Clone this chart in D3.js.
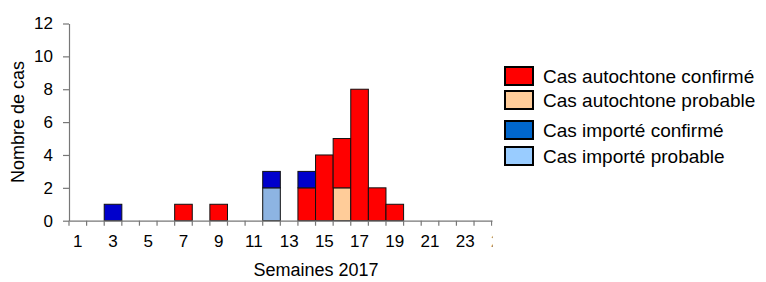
<!DOCTYPE html>
<html><head><meta charset="utf-8">
<script src="https://cdn.jsdelivr.net/npm/d3@7"></script>
<style>
html,body{margin:0;padding:0;background:#fff;}
svg{display:block;font-family:Arial,"Liberation Sans",sans-serif;}
</style></head>
<body>
<svg id="chart" width="766" height="282"></svg>
<script>
const weeks = [1,2,3,4,5,6,7,8,9,10,11,12,13,14,15,16,17,18,19,20,21,22,23,24,25];
const weekTickLabels = [1,3,5,7,9,11,13,15,17,19,21,23,25];
const autochtoneConfirme = [0,0,0,0,0,0,1,0,1,0,0,0,0,2,4,3,8,2,1,0,0,0,0,0,0];
const autochtoneProbable = [0,0,0,0,0,0,0,0,0,0,0,0,0,0,0,2,0,0,0,0,0,0,0,0,0];
const importeConfirme    = [0,0,1,0,0,0,0,0,0,0,0,1,0,1,0,0,0,0,0,0,0,0,0,0,0];
const importeProbable    = [0,0,0,0,0,0,0,0,0,0,0,2,0,0,0,0,0,0,0,0,0,0,0,0,0];
const yTicks = [0,2,4,6,8,10,12];
const seriesNames = ["Cas autochtone confirmé","Cas autochtone probable","Cas importé confirmé","Cas importé probable"];
const barColors = ["#FF0000","#FFCC99","#0000CC","#8DB4E2"];
const legendColors = ["#FF0000","#FFCC99","#0066CC","#99CCFF"];

const svg = d3.select("#chart");
const plotLeft = 69, plotBottom = 220.7, plotTop = 23.5, band = 17.61;

const x = d3.scaleBand().domain(weeks).range([plotLeft, plotLeft + band*weeks.length]).paddingInner(0).paddingOuter(0);
const y = d3.scaleLinear().domain([0,12]).range([plotBottom, plotTop]);

// stack table (bottom → top)
const keys = ["ap","ac","ip","ic"];
const keyIdx = {ac:0, ap:1, ic:2, ip:3};
const table = weeks.map((w,i)=>({week:w, ac:autochtoneConfirme[i], ap:autochtoneProbable[i], ic:importeConfirme[i], ip:importeProbable[i]}));
const stacked = d3.stack().keys(keys)(table);

const clipR = 492.5;
svg.append("defs").append("clipPath").attr("id","clipx")
  .append("rect").attr("x",0).attr("y",0).attr("width",clipR).attr("height",282);

// bars
svg.append("g").selectAll("g").data(stacked).join("g")
  .attr("fill", d => barColors[keyIdx[d.key]])
  .selectAll("rect").data(d => d.filter(s => s[1] - s[0] > 0)).join("rect")
  .attr("x", d => x(d.data.week))
  .attr("width", x.bandwidth())
  .attr("y", d => y(d[1]))
  .attr("height", d => y(d[0]) - y(d[1]))
  .attr("stroke","#111").attr("stroke-width",1);

// y axis
const yAxis = svg.append("g").attr("transform",`translate(${plotLeft},0)`)
  .call(d3.axisLeft(y).tickValues(yTicks).tickSize(6).tickSizeOuter(0).tickPadding(10));
yAxis.selectAll("path,line").attr("stroke","#777").attr("stroke-width",1.2);
yAxis.selectAll("text").attr("font-size",17).attr("fill","#000").attr("font-family","Arial, 'Liberation Sans', sans-serif");

// x axis
const xg = svg.append("g").attr("clip-path","url(#clipx)");
const xAxis = xg.append("g").attr("transform",`translate(0,${plotBottom})`)
  .call(d3.axisBottom(x).tickValues(weekTickLabels).tickSize(0).tickPadding(14).tickSizeOuter(0));
xAxis.select(".domain").attr("stroke","#777").attr("stroke-width",1.2);
xAxis.selectAll("text").attr("font-size",17).attr("fill","#000").attr("font-family","Arial, 'Liberation Sans', sans-serif");
// tick marks at band boundaries
xg.append("g").selectAll("line").data(weeks).join("line")
  .attr("x1", d => x(d)).attr("x2", d => x(d))
  .attr("y1", plotBottom).attr("y2", plotBottom + 5)
  .attr("stroke","#777").attr("stroke-width",1.2);

// axis titles
svg.append("text").attr("x", 316).attr("y", 276).attr("text-anchor","middle")
  .attr("font-size",18).text("Semaines 2017");
svg.append("text").attr("transform","translate(24,122) rotate(-90)").attr("text-anchor","middle")
  .attr("font-size",18).text("Nombre de cas");

// legend
const legendY = [67, 91, 121, 147];
const lg = svg.append("g");
seriesNames.forEach((name,i)=>{
  lg.append("rect").attr("x",505).attr("y",legendY[i]).attr("width",28).attr("height",18)
    .attr("fill",legendColors[i]).attr("stroke","#000").attr("stroke-width",2);
  lg.append("text").attr("x",543).attr("y",legendY[i]+16).attr("font-size",19).text(name);
});
</script>
</body></html>
